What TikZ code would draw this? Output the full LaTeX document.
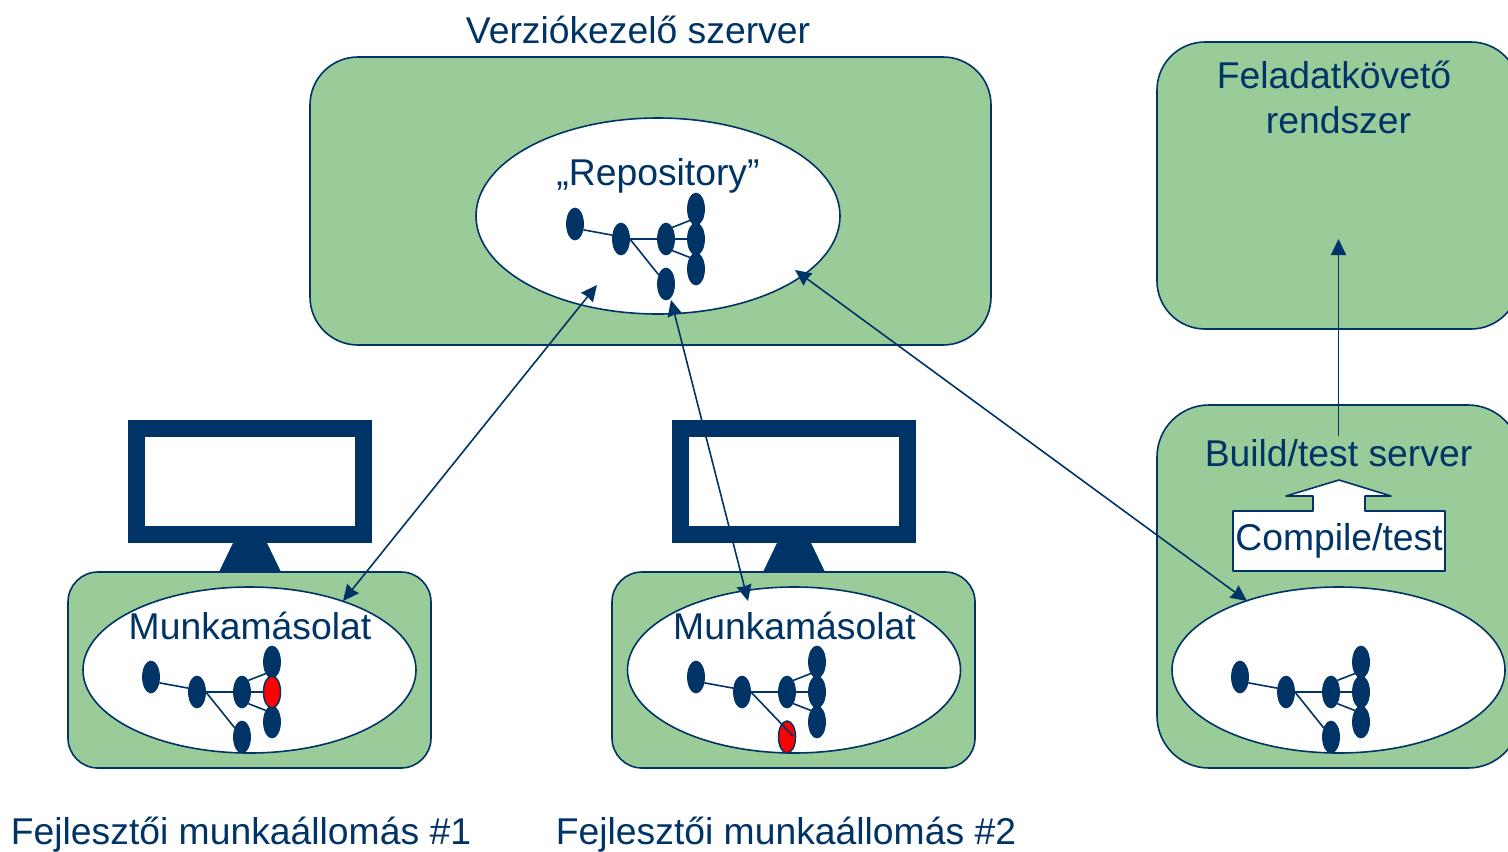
\documentclass[tikz,border=0pt]{standalone}
\usepackage{fontspec}
\setmainfont{Liberation Sans}
\usetikzlibrary{arrows.meta,shapes.geometric}
\definecolor{navy}{RGB}{0,51,102}
\definecolor{boxgreen}{RGB}{153,204,153}
\tikzset{
  label text/.style={text=navy,font=\fontsize{18.65}{22}\selectfont,inner sep=0pt},
  green box/.style={draw=navy,fill=boxgreen,line width=0.8pt},
  white shape/.style={draw=navy,fill=white,line width=0.8pt},
  commit/.style={ellipse,draw=navy,fill=navy,line width=0.4pt,minimum width=8.5pt,minimum height=16pt,inner sep=0pt},
  commit red/.style={commit,fill=red,line width=0.75pt},
  edge line/.style={draw=navy,line width=0.8pt},
  link/.style={draw=navy,line width=0.8pt,{Stealth[length=8pt,width=7.5pt,inset=0.5pt]}-{Stealth[length=8pt,width=7.5pt,inset=0.5pt]}},
  uplink/.style={draw=navy,line width=0.8pt,-{Stealth[length=8pt,width=7.5pt,inset=0pt]}}
}
% commit graph: prefix, first commit x, y, style of e, style of g
\newcommand{\commitgraph}[5]{
  \node [commit] (#1a) at (#2,#3) {};
  \node [commit] (#1b) at (#2+46,#3+15) {};
  \node [commit] (#1c) at (#2+91,#3+15) {};
  \node [commit] (#1d) at (#2+121,#3-15) {};
  \node [commit] (#1f) at (#2+121,#3+45) {};
  \node [#4] (#1e) at (#2+121,#3+15) {};
  \node [#5] (#1g) at (#2+91,#3+60) {};
  \draw [edge line] (#1a.-35) -- (#1b.156);
  \draw [edge line] (#1b) -- (#1c);
  \draw [edge line] (#1c.north east) -- (#1d.south west);
  \draw [edge line] (#1c) -- (#1e);
  \draw [edge line] (#1c.south east) -- (#1f.north west);
}
% monitor with its stand
\newcommand{\monitor}[1]{
  \fill [navy] (#1+105,543) -- (#1+139,543) -- (#1+153,572) -- (#1+91,572) -- cycle;
  \draw [navy,fill=white,line width=8.5pt] (#1+8.5,428.5) rectangle (#1+235.5,534.5);
}

\begin{document}
\begin{tikzpicture}[x=0.5pt,y=0.5pt,yscale=-1,xscale=1]
\clip (0,0) rectangle (1508,851);

% server boxes
\draw [green box,rounded corners=24pt] (310,57) rectangle (991,345);
\draw [green box,rounded corners=24pt] (1157,42) rectangle (1519,329);
\draw [green box,rounded corners=26pt] (1157,405) rectangle (1520,768);
\draw [white shape] (658,216) ellipse (182 and 98);

% monitors
\monitor{128}
\monitor{672}

% workstation boxes
\draw [green box,rounded corners=15pt] (68,572) rectangle (431,768);
\draw [green box,rounded corners=15pt] (612,572) rectangle (975,768);
\draw [white shape] (249.5,670) ellipse (166.5 and 83);
\draw [white shape] (794,670) ellipse (166.5 and 83);
\draw [white shape] (1338.5,670) ellipse (166.5 and 83);

% block arrow and compile box
\draw [white shape,line join=round] (1233,511) -- (1313,511) -- (1313,496) -- (1286,496) -- (1339,480) -- (1391,496) -- (1365,496) -- (1365,511) -- (1445,511) -- (1445,571) -- (1233,571) -- cycle;

% commit graphs
\commitgraph{r}{575}{224}{commit}{commit}
\commitgraph{p}{151}{677}{commit red}{commit}
\commitgraph{q}{696}{677}{commit}{commit red}
\commitgraph{s}{1240}{677}{commit}{commit}
\coordinate (qend) at (793,736);
\draw [edge line] (rb.east) -- (rg);
\draw [edge line] (pb.east) -- (pg);
\draw [edge line] (qb.east) -- (qend);
\draw [edge line] (sb.east) -- (sg);

% connector ends
\coordinate (repoA) at (597,285);
\coordinate (copyA) at (343,601);
\coordinate (repoB) at (671,300);
\coordinate (copyB) at (748,601);
\coordinate (repoC) at (795,270);
\coordinate (copyC) at (1247,601);
\coordinate (buildtop) at (1338.5,436);
\coordinate (tracker) at (1338.5,239);
\draw [link] (repoA) -- (copyA);
\draw [link] (repoB) -- (copyB);
\draw [link] (repoC) -- (copyC);
\draw [uplink] (buildtop) -- (tracker);

% Text Node
\node [label text] (server) at (638,30) {Verziókezelő szerver};
\node [label text] (repo) at (658,176) {„Repository”};
\node [label text] (tracker1) at (1334,75) {Feladatkövető};
\node [label text] (tracker2) at (1338.5,120) {rendszer};
\node [label text] (build) at (1338.5,453) {Build/test server};
\node [label text] (compile) at (1339,541) {Compile/test};
\node [label text] (copy1) at (250,626) {Munkamásolat};
\node [label text] (copy2) at (794.5,626) {Munkamásolat};
\node [label text] (station1) at (241,835) {Fejlesztői munkaállomás \#1};
\node [label text] (station2) at (786,835) {Fejlesztői munkaállomás \#2};

\end{tikzpicture}
\end{document}
